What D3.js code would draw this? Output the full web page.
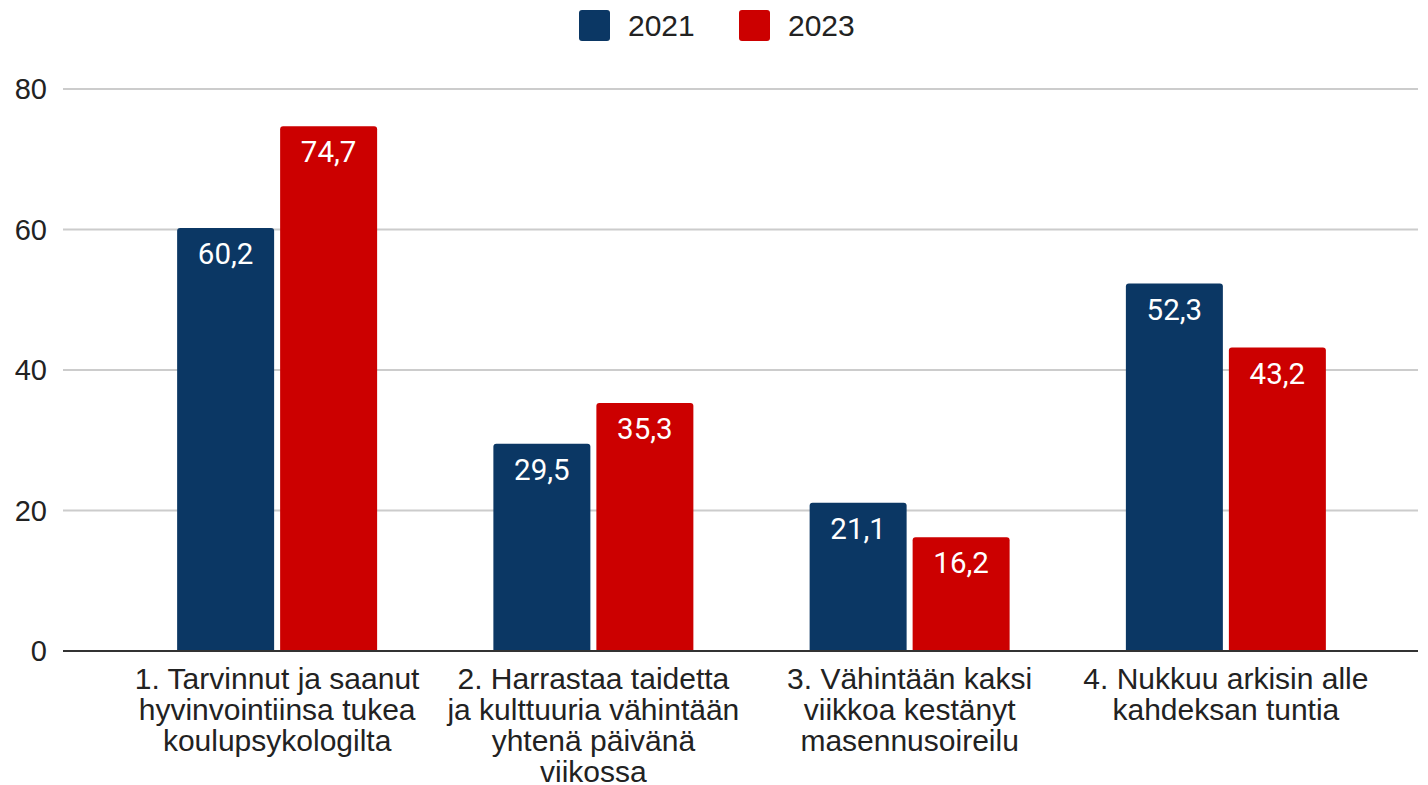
<!DOCTYPE html>
<html><head><meta charset="utf-8">
<script src="https://cdn.jsdelivr.net/npm/d3@7"></script>
<style>
html,body{margin:0;padding:0;background:#fff;}
svg{display:block;}
</style></head>
<body>
<svg id="chart" width="1428" height="785"></svg>
<script>
const categories = [
  "1. Tarvinnut ja saanut|hyvinvointiinsa tukea|koulupsykologilta",
  "2. Harrastaa taidetta|ja kulttuuria vähintään|yhtenä päivänä|viikossa",
  "3. Vähintään kaksi|viikkoa kestänyt|masennusoireilu",
  "4. Nukkuu arkisin alle|kahdeksan tuntia"
];
const seriesNames = ["2021", "2023"];
const values2021 = [60.2, 29.5, 21.1, 52.3];
const values2023 = [74.7, 35.3, 16.2, 43.2];
const yTicks = [0, 20, 40, 60, 80];
const colors = ["#0b3764", "#cc0000"];

const svg = d3.select("#chart");
const y = d3.scaleLinear().domain([0, 80]).range([651, 89]);
const x0 = d3.scaleBand().domain(categories).range([119, 1384]).paddingInner(0.3676).paddingOuter(0.1838);
const x1 = d3.scaleBand().domain(seriesNames).range([0, x0.bandwidth()]).paddingInner(0.0583).paddingOuter(0);

// gridlines
const gl = 63, gr = 1418;
svg.append("g").selectAll("line").data(yTicks.filter(d => d !== 0)).join("line")
  .attr("x1", gl).attr("x2", gr)
  .attr("y1", d => y(d)).attr("y2", d => y(d))
  .attr("stroke", "#cccccc").attr("stroke-width", 2);

// y labels
svg.append("g").selectAll("text").data(yTicks).join("text")
  .attr("x", 47).attr("y", d => y(d)).attr("dy", "0.35em")
  .attr("text-anchor", "end")
  .attr("font-family", "Arial, 'Liberation Sans', sans-serif")
  .attr("font-size", 29).attr("fill", "#222")
  .text(d => d);

// bars
const data = categories.map((c, i) => ({ cat: c, vals: [values2021[i], values2023[i]] }));
const r = 3;
function topRoundedRect(x, yTop, w, h, rad) {
  return `M${x},${yTop + h}V${yTop + rad}Q${x},${yTop} ${x + rad},${yTop}H${x + w - rad}Q${x + w},${yTop} ${x + w},${yTop + rad}V${yTop + h}Z`;
}
const groups = svg.append("g").selectAll("g").data(data).join("g")
  .attr("transform", d => `translate(${x0(d.cat)},0)`);
groups.selectAll("path").data(d => d.vals.map((v, j) => ({ s: seriesNames[j], v, j }))).join("path")
  .attr("d", d => topRoundedRect(x1(d.s), y(d.v), x1.bandwidth(), y(0) - y(d.v), r))
  .attr("fill", d => colors[d.j]);
groups.selectAll("text").data(d => d.vals.map((v, j) => ({ s: seriesNames[j], v, j }))).join("text")
  .attr("x", d => x1(d.s) + x1.bandwidth() / 2)
  .attr("y", d => y(d.v) + 36)
  .attr("text-anchor", "middle")
  .attr("font-family", "Roboto, sans-serif")
  .attr("font-size", 29.5).attr("fill", "#fff")
  .text(d => d3.format(".1f")(d.v).replace(".", ","));

// baseline
svg.append("line").attr("x1", gl).attr("x2", gr).attr("y1", y(0)).attr("y2", y(0))
  .attr("stroke", "#333").attr("stroke-width", 2);

// category labels
const cl = svg.append("g").selectAll("text").data(categories).join("text")
  .attr("x", d => x0(d) + x0.bandwidth() / 2)
  .attr("y", 689)
  .attr("text-anchor", "middle")
  .attr("font-family", "Arial, 'Liberation Sans', sans-serif")
  .attr("font-size", 30).attr("fill", "#222");
cl.selectAll("tspan").data(d => d.split("|")).join("tspan")
  .attr("x", function () { return d3.select(this.parentNode).attr("x"); })
  .attr("dy", (d, i) => i === 0 ? 0 : 31)
  .text(d => d);

// legend
const legend = svg.append("g");
const legendX = [579, 739];
seriesNames.forEach((s, i) => {
  legend.append("rect").attr("x", legendX[i]).attr("y", 10).attr("width", 31).attr("height", 31)
    .attr("rx", 3).attr("fill", colors[i]);
  legend.append("text").attr("x", legendX[i] + 49).attr("y", 36)
    .attr("font-family", "Arial, 'Liberation Sans', sans-serif")
    .attr("font-size", 30).attr("fill", "#222").text(s);
});
</script>
</body></html>
